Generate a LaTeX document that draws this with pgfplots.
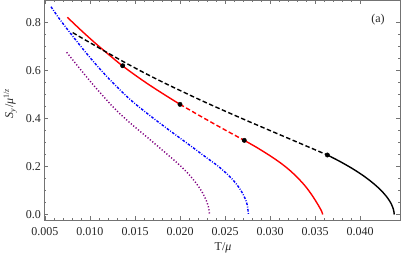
\documentclass[border=0pt]{standalone}
\usepackage{fontspec}
\setmainfont{Liberation Serif}
\usepackage{pgfplots}
\pgfplotsset{compat=1.18}
\definecolor{mpurple}{rgb}{0.5,0,0.5}
\definecolor{framegray}{gray}{0.45}
\begin{document}
\fontsize{12}{14}\selectfont
\begin{tikzpicture}
\useasboundingbox (-44pt,-42pt) rectangle (358pt,220pt);
\begin{axis}[
  at={(0,0)}, anchor=south west,
  scale only axis, width=356pt, height=220pt,
  xmin=0.00489, xmax=0.04444, ymin=-0.0229, ymax=0.894,
  xtick={0.005,0.01,0.015,0.02,0.025,0.03,0.035,0.04},
  xticklabels={0.005,0.010,0.015,0.020,0.025,0.030,0.035,0.040},
  ytick={0,0.2,0.4,0.6,0.8},
  yticklabels={0.0,0.2,0.4,0.6,0.8},
  minor x tick num=4, minor y tick num=3,
  tick align=inside,
  major tick length=4pt, minor tick length=2pt,
  axis line style={framegray, line width=0.5pt},
  every tick/.style={framegray, line width=0.4pt},
  ticklabel style={text=black!85},
  xticklabel style={inner sep=0pt, anchor=base, yshift=-15.5pt},
  yticklabel style={inner sep=0pt, anchor=east, xshift=-3pt},
  xlabel={T/\textit{μ}},
  ylabel={\textit{S}\textsubscript{\textit{y}}/\textit{μ}\textsuperscript{1/\textit{z}}},
  xlabel style={at={(axis description cs:0.503,-0.127)}, anchor=center},
  ylabel style={at={(axis description cs:-0.095,0.53)}, anchor=center},
  label style={text=black!85},
  scaled x ticks=false,
  clip=true,
]
% purple dotted
\addplot[mpurple, line width=1.4pt, dash pattern=on 1.2pt off 1.9pt, smooth] coordinates {
(0.00741,0.676)(0.00850,0.625)(0.00926,0.590)(0.01037,0.540)(0.01185,0.477)(0.01296,0.433)
(0.01444,0.382)(0.01667,0.312)(0.01889,0.241)(0.01984,0.210)(0.02066,0.180)(0.02138,0.150)
(0.02200,0.120)(0.02251,0.090)(0.02290,0.060)(0.02317,0.030)(0.02328,0.0)};
% blue dash-dot
\addplot[blue, line width=1.4pt, dash pattern=on 2.6pt off 1.5pt on 0.9pt off 1.5pt, smooth] coordinates {
(0.00567,0.866)(0.00667,0.812)(0.00815,0.740)(0.0100,0.654)(0.0120,0.570)(0.01444,0.480)
(0.01667,0.412)(0.01889,0.349)(0.02111,0.288)(0.02294,0.237)(0.02394,0.210)(0.02460,0.190)
(0.02548,0.160)(0.02620,0.130)(0.02677,0.100)(0.02719,0.070)(0.02747,0.040)(0.02760,0.0)};
% red
\addplot[red, line width=1.4pt, smooth] coordinates {
(0.00748,0.822)(0.00900,0.768)(0.01050,0.717)(0.01200,0.669)(0.01363,0.619)(0.01550,0.568)
(0.01700,0.530)(0.01850,0.494)(0.0200,0.459)};
\addplot[red, line width=1.4pt, dash pattern=on 4.5pt off 2.5pt, smooth] coordinates {
(0.0200,0.459)(0.0225,0.405)(0.0250,0.3525)(0.02714,0.309)};
\addplot[red, line width=1.4pt, smooth] coordinates {
(0.02714,0.309)(0.0285,0.280)(0.0300,0.245)(0.0312,0.214)(0.0322,0.184)(0.0331,0.152)
(0.0339,0.119)(0.0346,0.084)(0.0351,0.055)(0.0355,0.030)(0.03575,0.012)(0.03585,0.0)};
% black
\addplot[black, line width=1.4pt, dash pattern=on 4.5pt off 2.5pt, smooth] coordinates {
(0.00808,0.758)(0.0100,0.716)(0.0120,0.673)(0.0140,0.631)(0.0160,0.591)(0.0180,0.553)
(0.0200,0.517)(0.0225,0.473)(0.0250,0.431)(0.0275,0.390)(0.0300,0.350)(0.0325,0.310)(0.03637,0.248)};
\addplot[black, line width=1.4pt, smooth] coordinates {
(0.03637,0.248)(0.03782,0.220)(0.03921,0.190)(0.04043,0.160)(0.04147,0.130)(0.04235,0.100)
(0.04304,0.070)(0.04346,0.045)(0.04372,0.020)(0.04380,0.0)};
% markers
\addplot[only marks, mark=*, mark size=2.2pt, black] coordinates {
(0.01363,0.620)(0.0200,0.459)(0.02714,0.309)(0.03637,0.248)};
\node[text=black!85] at (rel axis cs:0.938,0.909) {(a)};
\end{axis}
\end{tikzpicture}
\end{document}
